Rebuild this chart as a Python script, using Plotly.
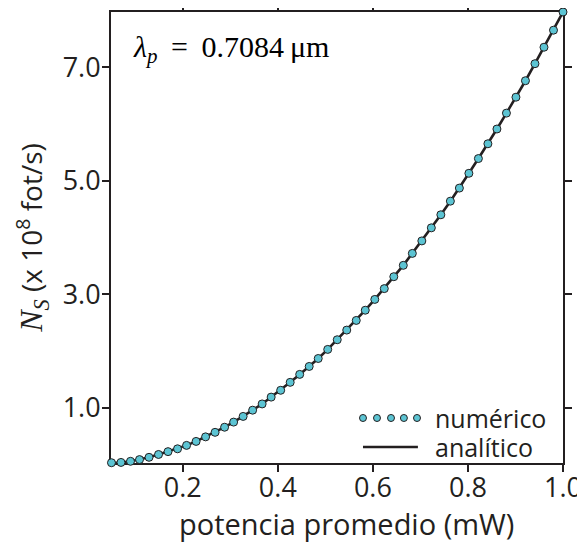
import plotly.graph_objects as go

# Data
potencia = [0.050, 0.070, 0.090, 0.109, 0.129, 0.149, 0.169, 0.189, 0.208, 0.228,
            0.248, 0.268, 0.288, 0.307, 0.327, 0.347, 0.367, 0.386, 0.406, 0.426,
            0.446, 0.466, 0.485, 0.505, 0.525, 0.545, 0.565, 0.584, 0.604, 0.624,
            0.644, 0.664, 0.683, 0.703, 0.723, 0.743, 0.763, 0.782, 0.802, 0.822,
            0.842, 0.861, 0.881, 0.901, 0.921, 0.941, 0.960, 0.980, 1.000]
ns_numerico = [0.035, 0.04, 0.06, 0.09, 0.13, 0.18, 0.23, 0.28, 0.34, 0.41,
               0.49, 0.57, 0.66, 0.75, 0.85, 0.96, 1.07, 1.19, 1.31, 1.45,
               1.59, 1.73, 1.87, 2.03, 2.20, 2.37, 2.54, 2.72, 2.91, 3.10,
               3.31, 3.51, 3.72, 3.94, 4.17, 4.40, 4.64, 4.87, 5.13, 5.39,
               5.65, 5.91, 6.19, 6.47, 6.76, 7.06, 7.35, 7.65, 7.97]
ns_analitico = ns_numerico
x_ticks = [0.2, 0.4, 0.6, 0.8, 1.0]
x_ticklabels = ["0.2", "0.4", "0.6", "0.8", "1.0"]
y_ticks = [1.0, 3.0, 5.0, 7.0]
y_ticklabels = ["1.0", "3.0", "5.0", "7.0"]

INK = "#231f20"
CYAN = "#5cc4d3"
SANS = "Open Sans"
SERIF = "Liberation Serif"

fig = go.Figure()
fig.add_trace(go.Scatter(x=potencia, y=ns_analitico, mode="lines",
                         line=dict(color=INK, width=2.6), name="analítico",
                         showlegend=False, cliponaxis=False))
fig.add_trace(go.Scatter(x=potencia, y=ns_numerico, mode="markers",
                         marker=dict(color=CYAN, size=8, line=dict(color=INK, width=1)),
                         name="numérico", showlegend=False, cliponaxis=False))

axis_common = dict(showline=True, linecolor=INK, linewidth=2, mirror="ticks",
                   ticks="outside", ticklen=7, tickwidth=1.6, tickcolor=INK,
                   showgrid=False, zeroline=False, automargin=False,
                   layer="below traces",
                   tickfont=dict(family=SANS, size=27, color=INK))

fig.update_xaxes(range=[0.049, 1.0], tickvals=x_ticks, ticktext=x_ticklabels,
                 ticklabelstandoff=-7, **axis_common)
fig.update_yaxes(range=[0.03, 7.97], tickvals=y_ticks, ticktext=y_ticklabels,
                 ticklabelstandoff=-4,
                 title=dict(text='<span style="font-family:Liberation Serif;font-size:32px"><i>N</i><sub><i>S</i></sub></span> (x 10<sup>8</sup> fot/s)',
                            standoff=12, font=dict(family=SANS, size=28, color=INK)),
                 **axis_common)

# Legend drawn manually (five dots + line)
shapes = []
dot_x = [0.5575, 0.5885, 0.6195, 0.648, 0.677]
rx, ry = 0.0077, 0.0078
for cx in dot_x:
    shapes.append(dict(type="circle", xref="paper", yref="paper",
                       x0=cx - rx, x1=cx + rx, y0=0.0998 - ry, y1=0.0998 + ry,
                       fillcolor=CYAN, line=dict(color=INK, width=1)))
shapes.append(dict(type="line", xref="paper", yref="paper",
                   x0=0.5575, x1=0.679, y0=0.0355, y1=0.0355,
                   line=dict(color=INK, width=2.6)))

annotations = [
    dict(text="numérico", xref="paper", yref="paper", x=0.713, y=0.1005,
         xanchor="left", yanchor="middle", showarrow=False,
         font=dict(family=SANS, size=25, color=INK)),
    dict(text="analítico", xref="paper", yref="paper", x=0.713, y=0.036,
         xanchor="left", yanchor="middle", showarrow=False,
         font=dict(family=SANS, size=25, color=INK)),
    dict(text="<i>λ</i><sub><i>p</i></sub>\u2009 = \u20090.7084\u2009μm", xref="paper", yref="paper",
         x=0.045, y=0.918, xanchor="left", yanchor="middle", showarrow=False,
         font=dict(family=SERIF, size=30, color="black")),
    # x-axis title
    dict(text="potencia promedio (mW)", xref="paper", yref="paper", x=0.52, y=-0.135,
         xanchor="center", yanchor="middle", showarrow=False,
         font=dict(family=SANS, size=29, color=INK)),
]

# The page body adds an 8px offset, so the figure is 8px smaller on each axis
fig.update_layout(width=577, height=534, margin=dict(l=103, r=22, t=4, b=79),
                  paper_bgcolor="white", plot_bgcolor="white",
                  shapes=shapes, annotations=annotations, showlegend=False)

fig.write_html("out.html")
